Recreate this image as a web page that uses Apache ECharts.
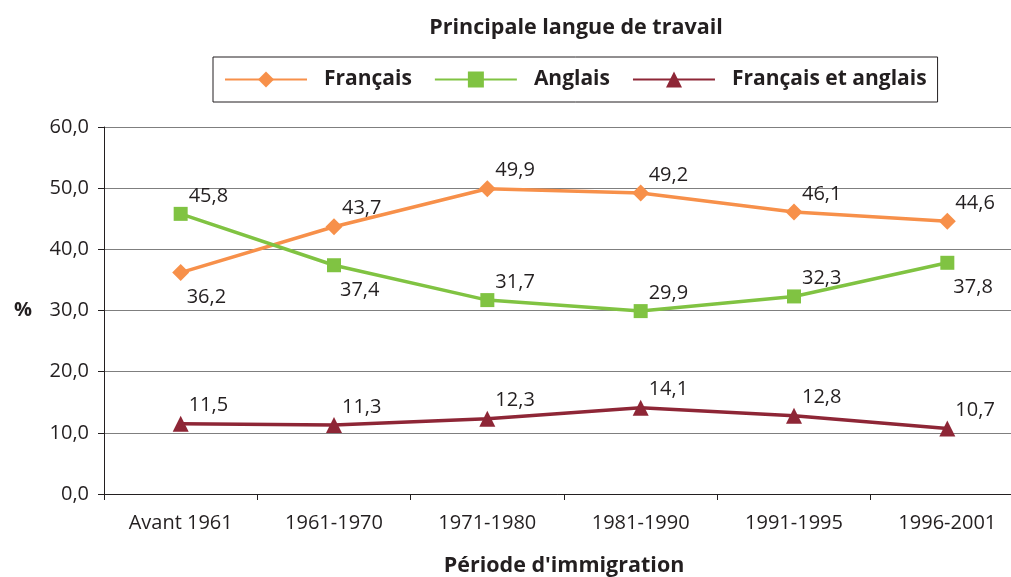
<!DOCTYPE html>
<html>
<head>
<meta charset="utf-8">
<script src="https://cdn.jsdelivr.net/npm/echarts@6/dist/echarts.min.js"></script>
<style>
  html, body { margin: 0; padding: 0; background: #fff; }
  #chart { width: 1011px; height: 577px; }
</style>
</head>
<body>
<div id="chart"></div>
<script>
const periodes = ['Avant 1961', '1961-1970', '1971-1980', '1981-1990', '1991-1995', '1996-2001']
const francais = [36.2, 43.7, 49.9, 49.2, 46.1, 44.6]
const anglais = [45.8, 37.4, 31.7, 29.9, 32.3, 37.8]
const lesDeux = [11.5, 11.3, 12.3, 14.1, 12.8, 10.7]
const yTicks = [0, 10, 20, 30, 40, 50, 60]

const FONT = '"Open Sans", "Noto Sans", sans-serif'
const TXT = '#231f20'
const fmt = v => v.toFixed(1).replace('.', ',')

// indices where the label sits below the point
function withLabels(values, below) {
  return values.map((v, i) => {
    if (below.indexOf(i) >= 0) {
      return { value: v, label: { offset: [6, 25] } }
    }
    return v
  })
}

const chart = echarts.init(document.getElementById('chart'))
const labelStyle = {
  show: true,
  position: 'inside',
  align: 'left',
  verticalAlign: 'middle',
  offset: [8, -18],
  color: TXT,
  fontFamily: FONT,
  fontSize: 20,
  formatter: p => fmt(p.value),
}

const options = {
  animation: false,
  title: {
    text: 'Principale langue de travail',
    left: 571,
    textAlign: 'center',
    top: 12,
    textStyle: { fontFamily: FONT, fontSize: 21.5, fontWeight: 'bold', color: TXT },
  },
  legend: {
    left: 213,
    top: 57,
    padding: [12, 11],
    borderColor: TXT,
    borderWidth: 1,
    borderRadius: 0,
    itemWidth: 82,
    itemHeight: 20,
    itemGap: 22,
    textStyle: { fontFamily: FONT, fontSize: 21, fontWeight: 'bold', color: TXT, padding: [0, 0, 0, 12] },
    data: ['Français', 'Anglais', 'Français et anglais'],
  },
  grid: { left: 104, top: 127, width: 920, bottom: 83, outerBoundsMode: 'none' },
  xAxis: {
    type: 'category',
    data: periodes,
    boundaryGap: true,
    name: "Période d'immigration",
    nameLocation: 'middle',
    nameGap: 61,
    nameTextStyle: { fontFamily: FONT, fontSize: 21.5, fontWeight: 'bold', color: TXT },
    axisLine: { lineStyle: { color: TXT, width: 1 } },
    axisTick: { show: true, length: 6, lineStyle: { color: TXT } },
    axisLabel: { fontFamily: FONT, fontSize: 20, color: TXT, margin: 19 },
  },
  yAxis: {
    type: 'value',
    min: yTicks[0],
    max: yTicks[yTicks.length - 1],
    interval: 10,
    name: '%',
    nameLocation: 'middle',
    nameRotate: 0,
    nameGap: 72,
    nameTextStyle: { fontFamily: FONT, fontSize: 20, fontWeight: 'bold', color: TXT },
    axisLine: { show: true, lineStyle: { color: TXT, width: 1 } },
    axisTick: { show: true, length: 6, lineStyle: { color: TXT } },
    axisLabel: { fontFamily: FONT, fontSize: 20, color: TXT, margin: 15, formatter: v => fmt(v) },
    splitLine: { lineStyle: { color: '#7f7f7f', width: 1 } },
  },
  series: [
    {
      name: 'Français',
      type: 'line',
      data: withLabels(francais, [0]),
      symbol: 'diamond',
      symbolSize: 17,
      color: '#f7904a',
      lineStyle: { width: 3.5 },
      label: labelStyle,
    },
    {
      name: 'Anglais',
      type: 'line',
      data: withLabels(anglais, [1, 5]),
      symbol: 'rect',
      symbolSize: 14,
      color: '#80c342',
      lineStyle: { width: 3.5 },
      label: labelStyle,
    },
    {
      name: 'Français et anglais',
      type: 'line',
      data: lesDeux,
      symbol: 'triangle',
      symbolSize: 16,
      color: '#8e2636',
      lineStyle: { width: 3.5 },
      label: labelStyle,
    },
  ],
}
options && chart.setOption(options)
</script>
</body>
</html>
